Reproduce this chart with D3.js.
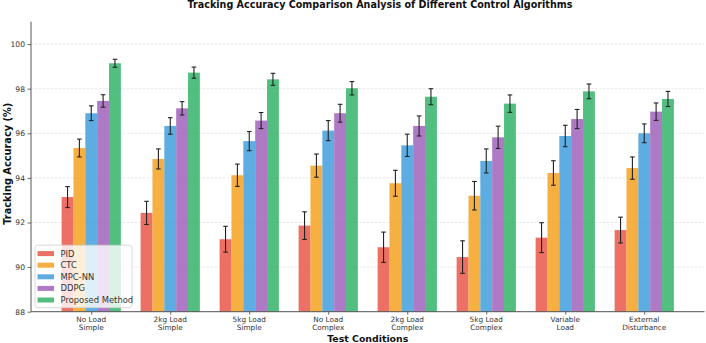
<!DOCTYPE html>
<html>
<head>
<meta charset="utf-8">
<script src="https://cdn.jsdelivr.net/npm/d3@7"></script>
<style>
  body { margin: 0; background: #fff; }
  svg { display: block; font-family: "DejaVu Sans", sans-serif; }
</style>
</head>
<body>
<svg id="chart" width="706" height="343"></svg>
<script>
const conditions = [
  ["No Load", "Simple"], ["2kg Load", "Simple"], ["5kg Load", "Simple"],
  ["No Load", "Complex"], ["2kg Load", "Complex"], ["5kg Load", "Complex"],
  ["Variable", "Load"], ["External", "Disturbance"]
];
const methods = ["PID", "CTC", "MPC-NN", "DDPG", "Proposed Method"];
const colors = ["#e74c3c", "#f39c12", "#3498db", "#9b59b6", "#27ae60"];

const pidMean = [93.14, 92.43, 91.25, 91.86, 90.89, 90.45, 91.32, 91.66];
const ctcMean = [95.34, 94.85, 94.12, 94.55, 93.76, 93.20, 94.22, 94.44];
const mpcMean = [96.90, 96.33, 95.65, 96.12, 95.46, 94.76, 95.88, 96.00];
const ddpgMean = [97.45, 97.12, 96.57, 96.90, 96.33, 95.82, 96.64, 96.97];
const propMean = [99.14, 98.72, 98.42, 98.02, 97.64, 97.33, 97.88, 97.54];

const pidErr = [0.47, 0.52, 0.58, 0.62, 0.68, 0.73, 0.67, 0.58];
const ctcErr = [0.40, 0.45, 0.50, 0.52, 0.58, 0.64, 0.55, 0.50];
const mpcErr = [0.33, 0.37, 0.43, 0.45, 0.50, 0.54, 0.48, 0.42];
const ddpgErr = [0.28, 0.30, 0.36, 0.40, 0.45, 0.50, 0.43, 0.39];
const propErr = [0.18, 0.25, 0.27, 0.30, 0.36, 0.39, 0.33, 0.34];

const yTicks = [88, 90, 92, 94, 96, 98, 100];

const means = [pidMean, ctcMean, mpcMean, ddpgMean, propMean];
const errs = [pidErr, ctcErr, mpcErr, ddpgErr, propErr];

const svg = d3.select("#chart");
const margin = { left: 31, right: 1.5, top: 21.8, bottom: 31.3 };
const W = 706, H = 343;

// matplotlib-like x: bar width 0.15, xlim with 5% margins
const barW = 0.15;
const x = d3.scaleLinear()
  .domain([-0.7625, 7.7625])
  .range([margin.left, W - margin.right]);
const y = d3.scaleLinear()
  .domain([88, 101])
  .range([H - margin.bottom, margin.top]);

const g = svg.append("g");

// grid
g.append("g").selectAll("line")
  .data(yTicks)
  .enter().append("line")
  .attr("x1", x.range()[0]).attr("x2", x.range()[1])
  .attr("y1", d => y(d)).attr("y2", d => y(d))
  .attr("stroke", "#b0b0b0").attr("stroke-opacity", 0.35)
  .attr("stroke-width", 0.8).attr("stroke-dasharray", "2.5,1.5");

// bars
const clipId = "plotclip";
svg.append("clipPath").attr("id", clipId).append("rect")
  .attr("x", x.range()[0]).attr("y", y.range()[1])
  .attr("width", x.range()[1] - x.range()[0])
  .attr("height", y.range()[0] - y.range()[1]);

methods.forEach((m, mi) => {
  const off = (mi - 2) * barW;
  const layer = g.append("g").attr("clip-path", `url(#${clipId})`);
  layer.selectAll("rect")
    .data(means[mi])
    .enter().append("rect")
    .attr("x", (d, i) => x(i + off - barW / 2))
    .attr("width", x(barW) - x(0))
    .attr("y", d => y(d))
    .attr("height", d => y(88) - y(d))
    .attr("fill", colors[mi]).attr("fill-opacity", 0.8);

  const eb = g.append("g").attr("stroke", "#222").attr("stroke-width", 1.1);
  means[mi].forEach((d, i) => {
    const cx = x(i + off), e = errs[mi][i];
    eb.append("line").attr("x1", cx).attr("x2", cx)
      .attr("y1", y(d - e)).attr("y2", y(d + e));
    [d - e, d + e].forEach(v => eb.append("line")
      .attr("x1", cx - 2.3).attr("x2", cx + 2.3)
      .attr("y1", y(v)).attr("y2", y(v)));
  });
});

// axes
const yAxis = g.append("g")
  .attr("transform", `translate(${x.range()[0]},0)`)
  .call(d3.axisLeft(y).tickValues(yTicks).tickSize(3.5).tickPadding(2.5));
const xAxis = g.append("g")
  .attr("transform", `translate(0,${y(88)})`)
  .call(d3.axisBottom(x).tickValues(d3.range(8)).tickSize(3).tickFormat(""));
[yAxis, xAxis].forEach(a => {
  a.select(".domain").attr("stroke", "#444").attr("stroke-width", 0.9);
  a.selectAll(".tick line").attr("stroke", "#444").attr("stroke-width", 0.8);
  a.selectAll("text").attr("fill", "#333").attr("font-size", 7.6)
    .attr("font-family", "DejaVu Sans");
});
// remove domain end caps to look like spines
yAxis.select(".domain").attr("d", `M0,${y.range()[0]}V${y.range()[1]}`);
xAxis.select(".domain").attr("d", `M${x.range()[0]},0H${x.range()[1]}`);

const xl = g.append("g").attr("fill", "#333").attr("font-size", 7.3);
conditions.forEach((c, i) => {
  const t = xl.append("text").attr("text-anchor", "middle")
    .attr("x", x(i)).attr("y", y(88) + 10.6);
  t.append("tspan").attr("x", x(i)).text(c[0]);
  t.append("tspan").attr("x", x(i)).attr("dy", 7.9).text(c[1]);
});

// labels
svg.append("text").attr("x", 380).attr("y", 8)
  .attr("text-anchor", "middle").attr("font-weight", "bold")
  .attr("font-size", 9.6).attr("fill", "#111")
  .text("Tracking Accuracy Comparison Analysis of Different Control Algorithms");
svg.append("text").attr("x", x(3.5)).attr("y", 342.3)
  .attr("text-anchor", "middle").attr("font-weight", "bold")
  .attr("font-size", 9.4).attr("fill", "#111")
  .text("Test Conditions");
svg.append("text")
  .attr("transform", `translate(10.5,${(y.range()[0] + y.range()[1]) / 2 - 3}) rotate(-90)`)
  .attr("text-anchor", "middle").attr("font-weight", "bold")
  .attr("font-size", 9.8).attr("fill", "#111")
  .text("Tracking Accuracy (%)");

// legend
const lg = svg.append("g").attr("transform", `translate(${x.range()[0] + 4},${y(88) - 4})`);
const lgH = 62.5, lgW = 97;
lg.append("rect").attr("x", 0).attr("y", -lgH).attr("width", lgW).attr("height", lgH)
  .attr("rx", 2.5).attr("fill", "#fff").attr("fill-opacity", 0.8)
  .attr("stroke", "#d0d0d0").attr("stroke-width", 0.8);
methods.forEach((m, mi) => {
  const yy = -lgH + 8.3 + mi * 11.6;
  lg.append("rect").attr("x", 2.5).attr("y", yy - 2.4).attr("width", 16.5).attr("height", 5)
    .attr("fill", colors[mi]).attr("fill-opacity", 0.8);
  lg.append("text").attr("x", 25.5).attr("y", yy + 3).attr("font-size", 8.4)
    .attr("fill", "#333").text(m);
});
</script>
</body>
</html>
